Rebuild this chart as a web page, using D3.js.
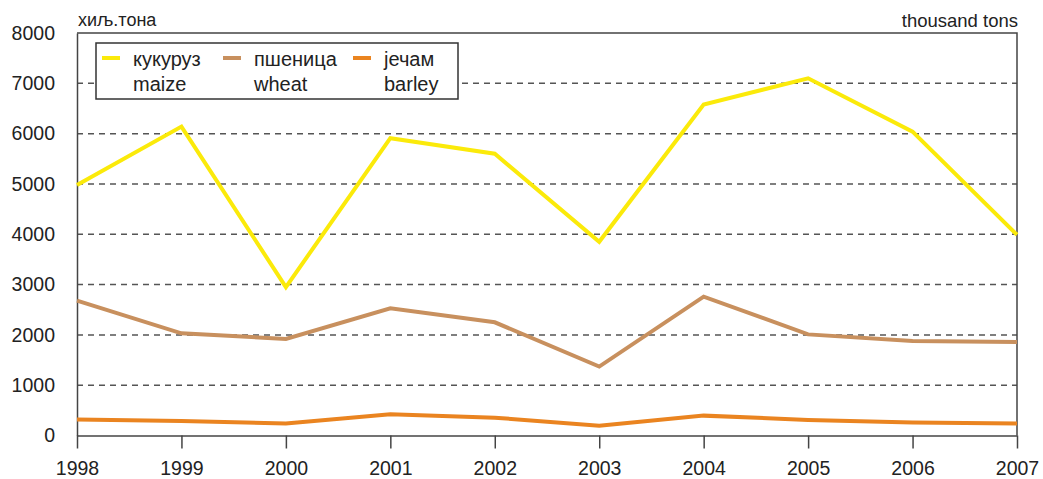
<!DOCTYPE html>
<html>
<head>
<meta charset="utf-8">
<script src="https://cdn.jsdelivr.net/npm/d3@7"></script>
<style>
  body { margin: 0; background: #fff; }
  text { font-family: "Liberation Sans", Arial, sans-serif; fill: #222; }
</style>
</head>
<body>
<script>
// Chart data
var years = [1998, 1999, 2000, 2001, 2002, 2003, 2004, 2005, 2006, 2007];
var maize = [4980, 6140, 2950, 5910, 5600, 3850, 6580, 7100, 6040, 3990];
var wheat = [2680, 2030, 1920, 2530, 2250, 1370, 2760, 2010, 1880, 1860];
var barley = [320, 290, 240, 420, 355, 195, 395, 310, 260, 240];
var yTicks = [0, 1000, 2000, 3000, 4000, 5000, 6000, 7000, 8000];
var seriesNames = [["кукуруз", "maize"], ["пшеница", "wheat"], ["јечам", "barley"]];

var svgWidth = 1043;
var svgHeight = 479;

var chartMargin = { top: 33, right: 26, bottom: 43.5, left: 77 };
var chartWidth = svgWidth - chartMargin.left - chartMargin.right;
var chartHeight = svgHeight - chartMargin.top - chartMargin.bottom;

var svg = d3.select("body")
  .append("svg")
  .attr("width", svgWidth)
  .attr("height", svgHeight);

var chartGroup = svg.append("g")
  .attr("transform", `translate(${chartMargin.left}, ${chartMargin.top})`);

var xScale = d3.scaleLinear()
  .domain([1998, 2007])
  .range([0, chartWidth]);

var yScale = d3.scaleLinear()
  .domain([0, 8000])
  .range([chartHeight, 0]);

// dashed gridlines
chartGroup.selectAll(".grid")
  .data(yTicks.filter(d => d > 0 && d < 8000))
  .enter()
  .append("line")
  .attr("x1", 0)
  .attr("x2", chartWidth)
  .attr("y1", d => yScale(d))
  .attr("y2", d => yScale(d))
  .attr("stroke", "#555")
  .attr("stroke-width", 1.5)
  .attr("stroke-dasharray", "6,5");

// frame (top and right)
chartGroup.append("path")
  .attr("d", `M0,0H${chartWidth}V${chartHeight}`)
  .attr("fill", "none")
  .attr("stroke", "#444")
  .attr("stroke-width", 1.5);

// left axis
var leftAxis = d3.axisLeft(yScale).tickValues(yTicks).tickFormat(d3.format("d"))
  .tickSize(0).tickPadding(22);
var yAxisG = chartGroup.append("g").call(leftAxis);
yAxisG.select(".domain").attr("stroke", "#444").attr("stroke-width", 1.5);
yAxisG.selectAll("text")
  .style("font-size", "19.5px")
  .attr("fill", "#222");

// bottom axis
var bottomAxis = d3.axisBottom(xScale).tickValues(years).tickFormat(d3.format("d"))
  .tickSize(13).tickSizeOuter(0).tickPadding(13);
var xAxisG = chartGroup.append("g")
  .attr("transform", `translate(0, ${chartHeight})`)
  .call(bottomAxis);
xAxisG.select(".domain").attr("stroke", "#444").attr("stroke-width", 1.5);
xAxisG.selectAll(".tick line").attr("stroke", "#444").attr("stroke-width", 1.5);
xAxisG.selectAll("text")
  .style("font-size", "19.5px")
  .attr("fill", "#222");

// lines
var colors = ["#fbea0a", "#c8905e", "#ea8420"];
var allSeries = [maize, wheat, barley];

var line = d3.line()
  .x((d, i) => xScale(years[i]))
  .y(d => yScale(d));

chartGroup.selectAll(".series")
  .data(allSeries)
  .enter()
  .append("path")
  .attr("d", d => line(d))
  .attr("fill", "none")
  .attr("stroke", (d, i) => colors[i])
  .attr("stroke-width", 4)
  .attr("stroke-linejoin", "miter");

// unit labels
svg.append("text")
  .attr("x", chartMargin.left + 1)
  .attr("y", 26)
  .style("font-size", "18px")
  .text("хиљ.тона");

svg.append("text")
  .attr("x", chartMargin.left + chartWidth + 1)
  .attr("y", 27)
  .attr("text-anchor", "end")
  .style("font-size", "18.5px")
  .text("thousand tons");

// legend
var legend = svg.append("g");
legend.append("rect")
  .attr("x", 96)
  .attr("y", 43)
  .attr("width", 362)
  .attr("height", 56)
  .attr("fill", "#fff")
  .attr("stroke", "#333")
  .attr("stroke-width", 1.5);

var legendX = [102, 223, 353];
var items = legend.selectAll(".item")
  .data(seriesNames)
  .enter()
  .append("g")
  .attr("transform", (d, i) => `translate(${legendX[i]}, 0)`);

items.append("line")
  .attr("x1", 0)
  .attr("x2", 18)
  .attr("y1", 58)
  .attr("y2", 58)
  .attr("stroke", (d, i) => colors[i])
  .attr("stroke-width", 4);

items.append("text")
  .attr("x", 31)
  .attr("y", 66)
  .style("font-size", "20px")
  .text(d => d[0]);

items.append("text")
  .attr("x", 31)
  .attr("y", 91)
  .style("font-size", "20px")
  .text(d => d[1]);
</script>
</body>
</html>
